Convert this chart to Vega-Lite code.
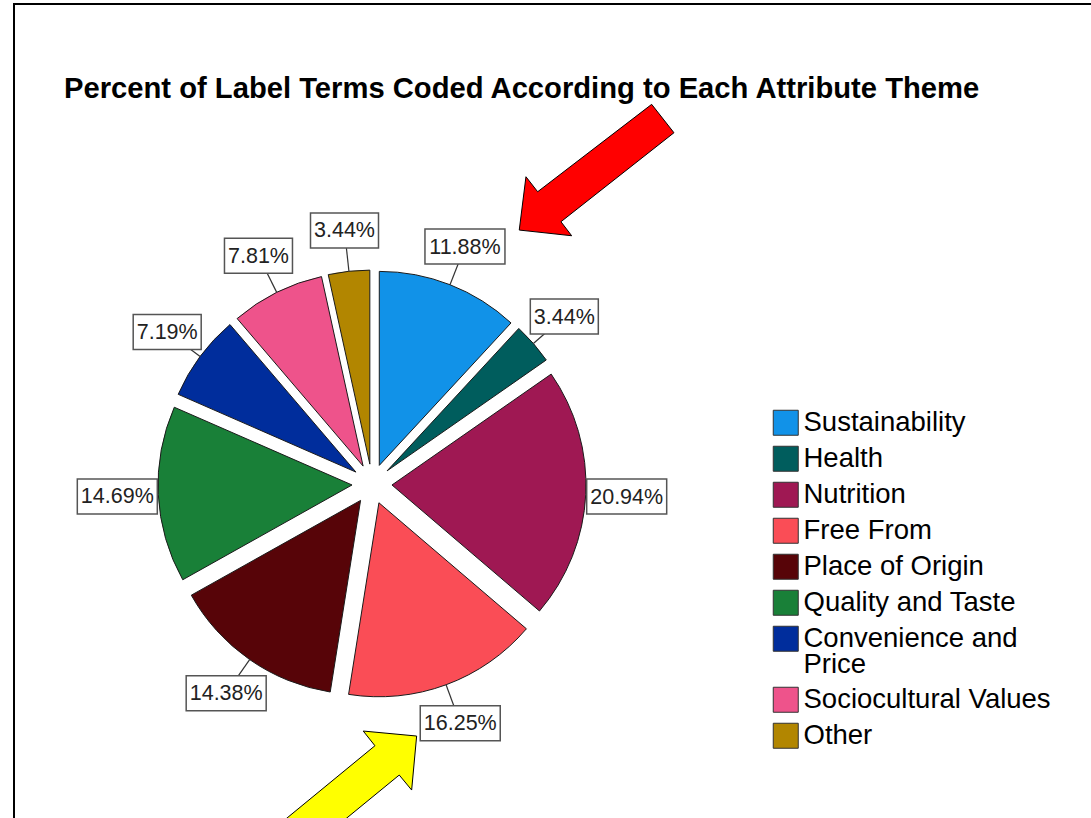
{
  "$schema": "https://vega.github.io/schema/vega-lite/v6.json",
  "autosize": "none",
  "width": 1077,
  "height": 814,
  "padding": {"left": 14, "top": 4, "right": 0, "bottom": 0},
  "background": "white",
  "config": {
    "view": {"stroke": "black", "strokeWidth": 2, "strokeDash": [1077, 1891, 814]},
    "style": {"guide-label": {"lineHeight": 26}}
  },
  "title": {
    "text": "Percent of Label Terms Coded According to Each Attribute Theme",
    "anchor": "start",
    "frame": "group",
    "font": "Liberation Sans",
    "fontSize": 29.2,
    "fontWeight": "bold",
    "color": "black",
    "offset": 0,
    "baseline": "alphabetic",
    "dx": 50,
    "dy": 123
  },
  "data": {
    "values": [
      {"theme": "Sustainability", "pct": 11.88},
      {"theme": "Health", "pct": 3.44},
      {"theme": "Nutrition", "pct": 20.94},
      {"theme": "Free From", "pct": 16.25},
      {"theme": "Place of Origin", "pct": 14.38},
      {"theme": "Quality and Taste", "pct": 14.69},
      {"theme": "Convenience and Price", "pct": 7.19},
      {"theme": "Sociocultural Values", "pct": 7.81},
      {"theme": "Other", "pct": 3.44}
    ]
  },
  "transform": [
    {"window": [{"op": "sum", "field": "pct", "as": "cum"}], "frame": [null, 0]},
    {"calculate": "datum.cum - datum.pct", "as": "start"},
    {"calculate": "(datum.cum - datum.pct / 2) / 100.02 * 2 * PI", "as": "ang"},
    {"calculate": "format(datum.pct, '.2f') + '%'", "as": "lbl"},
    {"calculate": "20 * sin(datum.ang)", "as": "ex"},
    {"calculate": "20 * cos(datum.ang)", "as": "ey"},
    {"calculate": "214 * sin(datum.ang)", "as": "r1x"},
    {"calculate": "214 * cos(datum.ang)", "as": "r1y"},
    {"calculate": "255 * sin(datum.ang)", "as": "lx"},
    {"calculate": "255 * cos(datum.ang)", "as": "ly"},
    {"calculate": "datum.lx - (12 * length(datum.lbl) + 8) / 2", "as": "bx1"},
    {"calculate": "datum.lx + (12 * length(datum.lbl) + 8) / 2", "as": "bx2"},
    {"calculate": "datum.ly - 17.5", "as": "by1"},
    {"calculate": "datum.ly + 17.5", "as": "by2"}
  ],
  "layer": [
    {
      "mark": {"type": "arc", "outerRadius": 194, "stroke": "#1a1a1a", "strokeWidth": 1},
      "encoding": {
        "x": {"field": "ex", "type": "quantitative", "axis": null, "scale": {"domain": [-358, 719], "nice": false, "zero": false}},
        "y": {"field": "ey", "type": "quantitative", "axis": null, "scale": {"domain": [-334, 480], "nice": false, "zero": false}},
        "theta": {"field": "start", "type": "quantitative", "stack": null, "scale": {"domain": [0, 100.02]}},
        "theta2": {"field": "cum"},
        "color": {
          "field": "theme",
          "type": "nominal",
          "scale": {
            "domain": ["Sustainability", "Health", "Nutrition", "Free From", "Place of Origin", "Quality and Taste", "Convenience and Price", "Sociocultural Values", "Other"],
            "range": ["#1192e8", "#005d5d", "#9f1853", "#fa4d56", "#570408", "#198038", "#002d9c", "#ee538b", "#b28600"]
          },
          "legend": {
            "title": null,
            "orient": "none",
            "legendX": 758,
            "legendY": 405,
            "padding": 0,
            "symbolType": "square",
            "symbolSize": 625,
            "symbolStrokeColor": "#333333",
            "symbolStrokeWidth": 1,
            "symbolOpacity": 1,
            "labelFont": "Liberation Sans",
            "labelFontSize": 27.5,
            "labelColor": "black",
            "labelLimit": 400,
            "labelOffset": 4,
            "rowPadding": 6,
            "labelExpr": "datum.label == 'Convenience and Price' ? ['Convenience and', 'Price'] : datum.label"
          }
        }
      }
    },
    {
      "mark": {"type": "rule", "stroke": "#333333", "strokeWidth": 1.2},
      "encoding": {
        "x": {"field": "r1x", "type": "quantitative"},
        "y": {"field": "r1y", "type": "quantitative"},
        "x2": {"field": "lx"},
        "y2": {"field": "ly"}
      }
    },
    {
      "mark": {"type": "rect", "fill": "white", "stroke": "#555555", "strokeWidth": 1.5},
      "encoding": {
        "x": {"field": "bx1", "type": "quantitative"},
        "x2": {"field": "bx2"},
        "y": {"field": "by1", "type": "quantitative"},
        "y2": {"field": "by2"}
      }
    },
    {
      "mark": {"type": "text", "font": "Liberation Sans", "fontSize": 21.5, "color": "#222222", "align": "center", "baseline": "middle", "dy": 1},
      "encoding": {
        "x": {"field": "lx", "type": "quantitative"},
        "y": {"field": "ly", "type": "quantitative"},
        "text": {"field": "lbl"}
      }
    },
    {
      "transform": [{"filter": "datum.theme == 'Sustainability'"}],
      "mark": {
        "type": "point",
        "filled": true,
        "opacity": 1,
        "fill": "#ff0000",
        "stroke": "black",
        "strokeWidth": 1,
        "size": 4,
        "shape": "M54.3,-16.5L106.7,-10.8L96,-24.8L209,-113.8L186.7,-142.2L72.7,-54.8L61,-69.8Z"
      },
      "encoding": {
        "x": {"field": "lx", "type": "quantitative"},
        "y": {"field": "ly", "type": "quantitative"}
      }
    },
    {
      "transform": [{"filter": "datum.theme == 'Free From'"}],
      "mark": {
        "type": "point",
        "filled": true,
        "opacity": 1,
        "fill": "#ffff00",
        "stroke": "black",
        "strokeWidth": 1,
        "size": 4,
        "shape": "M-43.6,12.8L-48.6,66.8L-61,51.8L-177,146.8L-201.3,117.8L-85.3,22.5L-97,7.8Z"
      },
      "encoding": {
        "x": {"field": "lx", "type": "quantitative"},
        "y": {"field": "ly", "type": "quantitative"}
      }
    }
  ]
}
